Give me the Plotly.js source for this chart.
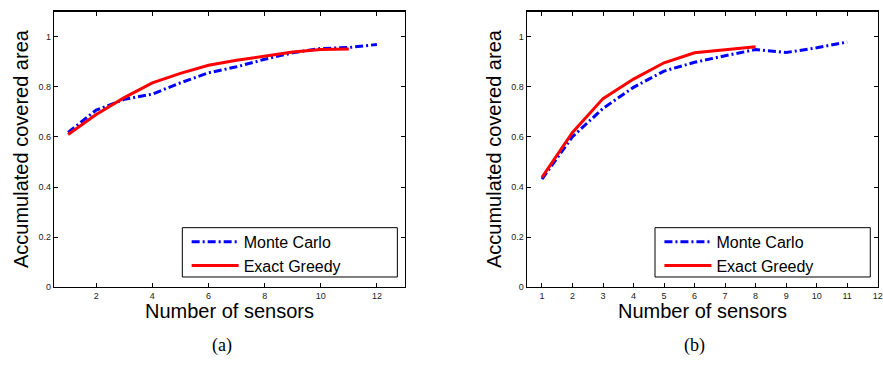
<!DOCTYPE html>
<html>
<head>
<meta charset="utf-8">
<script src="https://cdn.plot.ly/plotly-3.0.1.min.js"></script>
<style>html,body{margin:0;padding:0;background:#fff;}#chart{width:883px;height:365px;}</style>
</head>
<body>
<div id="chart"></div>
<script>
// (a)
const sensorsA_MC = [1,2,3,4,5,6,7,8,9,10,11,12];
const coverA_MC = [0.618,0.707,0.750,0.771,0.816,0.856,0.880,0.910,0.936,0.953,0.957,0.969];
const sensorsA_EG = [1,2,3,4,5,6,7,8,9,10,11];
const coverA_EG = [0.610,0.690,0.757,0.816,0.854,0.886,0.906,0.923,0.939,0.949,0.951];
// (b)
const sensorsB_MC = [1,2,3,4,5,6,7,8,9,10,11];
const coverB_MC = [0.432,0.601,0.714,0.798,0.863,0.898,0.924,0.949,0.937,0.956,0.979];
const sensorsB_EG = [1,2,3,4,5,6,7,8];
const coverB_EG = [0.439,0.618,0.753,0.831,0.896,0.936,0.948,0.960];

const ticksA = [2,4,6,8,10,12];
const ticksB = [1,2,3,4,5,6,7,8,9,10,11,12];
const yTicks = [0,0.2,0.4,0.6,0.8,1];
const yTickText = ['0','0.2','0.4','0.6','0.8','1'];

const nameMC = 'Monte Carlo';
const nameEG = 'Exact Greedy';
const xTitle = 'Number of sensors';
const yTitle = 'Accumulated covered area';

const BLUE = '#0000ff', RED = '#ff0000';
const F = 'Liberation Sans, Arial, sans-serif';

const mcLine = {color: BLUE, width: 3, dash: '8px,3px,2px,3px'};
const egLine = {color: RED, width: 3};

const traces = [
  {x: sensorsA_MC, y: coverA_MC, name: nameMC, mode: 'lines', line: mcLine, xaxis: 'x', yaxis: 'y', legend: 'legend'},
  {x: sensorsA_EG, y: coverA_EG, name: nameEG, mode: 'lines', line: egLine, xaxis: 'x', yaxis: 'y', legend: 'legend'},
  {x: sensorsB_MC, y: coverB_MC, name: nameMC, mode: 'lines', line: mcLine, xaxis: 'x2', yaxis: 'y2', legend: 'legend2'},
  {x: sensorsB_EG, y: coverB_EG, name: nameEG, mode: 'lines', line: egLine, xaxis: 'x2', yaxis: 'y2', legend: 'legend2'}
];

const axisCommon = {
  showline: true, linecolor: '#000', linewidth: 1.2, mirror: 'ticks',
  ticks: 'inside', ticklen: 4, tickcolor: '#000', tickwidth: 1,
  showgrid: false, zeroline: false,
  tickfont: {family: F, size: 9, color: '#222'}
};
const yDom = [0.2129, 0.968];
const legFont = {family: F, size: 16, color: '#000'};
const legCommon = {xanchor: 'left', yanchor: 'top', bgcolor: 'rgba(0,0,0,0)', borderwidth: 0,
                   font: legFont, itemwidth: 47, tracegroupgap: 0};

const layout = {
  width: 883, height: 365,
  margin: {l: 0, r: 0, t: 0, b: 0},
  paper_bgcolor: '#fff', plot_bgcolor: '#fff',
  font: {family: F, color: '#000', size: 16},
  xaxis: Object.assign({}, axisCommon, {domain: [0.0612, 0.4587], range: [0.5, 13], tickvals: ticksA, anchor: 'y'}),
  yaxis: Object.assign({}, axisCommon, {domain: yDom, range: [0, 1.1], tickvals: yTicks, ticktext: yTickText, anchor: 'x'}),
  xaxis2: Object.assign({}, axisCommon, {domain: [0.5965, 0.994], range: [0.5, 12], tickvals: ticksB, anchor: 'y2'}),
  yaxis2: Object.assign({}, axisCommon, {domain: yDom, range: [0, 1.1], tickvals: yTicks, ticktext: yTickText, anchor: 'x2'}),
  legend: Object.assign({}, legCommon, {x: 0.2114, y: 0.3840}),
  legend2: Object.assign({}, legCommon, {x: 0.7468, y: 0.3840}),
  shapes: [
    {type: 'rect', xref: 'paper', yref: 'paper', x0: 0.2065, x1: 0.4500, y0: 0.2411, y1: 0.3762,
     line: {color: '#000', width: 1}, fillcolor: '#fff', layer: 'above'},
    {type: 'rect', xref: 'paper', yref: 'paper', x0: 0.7418, x1: 0.9856, y0: 0.2411, y1: 0.3762,
     line: {color: '#000', width: 1}, fillcolor: '#fff', layer: 'above'}
  ],
  annotations: [
    {text: xTitle, xref: 'paper', yref: 'paper', x: 0.2599, y: 0.148, showarrow: false, xanchor: 'center', yanchor: 'middle', font: {family: F, size: 20, color: '#000'}},
    {text: xTitle, xref: 'paper', yref: 'paper', x: 0.7952, y: 0.148, showarrow: false, xanchor: 'center', yanchor: 'middle', font: {family: F, size: 20, color: '#000'}},
    {text: yTitle, xref: 'paper', yref: 'paper', x: 0.0238, y: 0.5918, showarrow: false, textangle: -90, xanchor: 'center', yanchor: 'middle', font: {family: F, size: 20, color: '#000'}},
    {text: yTitle, xref: 'paper', yref: 'paper', x: 0.5595, y: 0.5918, showarrow: false, textangle: -90, xanchor: 'center', yanchor: 'middle', font: {family: F, size: 20, color: '#000'}},
    {text: '(a)', xref: 'paper', yref: 'paper', x: 0.251, y: 0.0526, showarrow: false, xanchor: 'center', yanchor: 'middle', font: {family: 'Liberation Serif, Times New Roman, serif', size: 18, color: '#000'}},
    {text: '(b)', xref: 'paper', yref: 'paper', x: 0.787, y: 0.0526, showarrow: false, xanchor: 'center', yanchor: 'middle', font: {family: 'Liberation Serif, Times New Roman, serif', size: 18, color: '#000'}}
  ]
};

Plotly.newPlot('chart', traces, layout, {staticPlot: true, displayModeBar: false});
</script>
</body>
</html>
